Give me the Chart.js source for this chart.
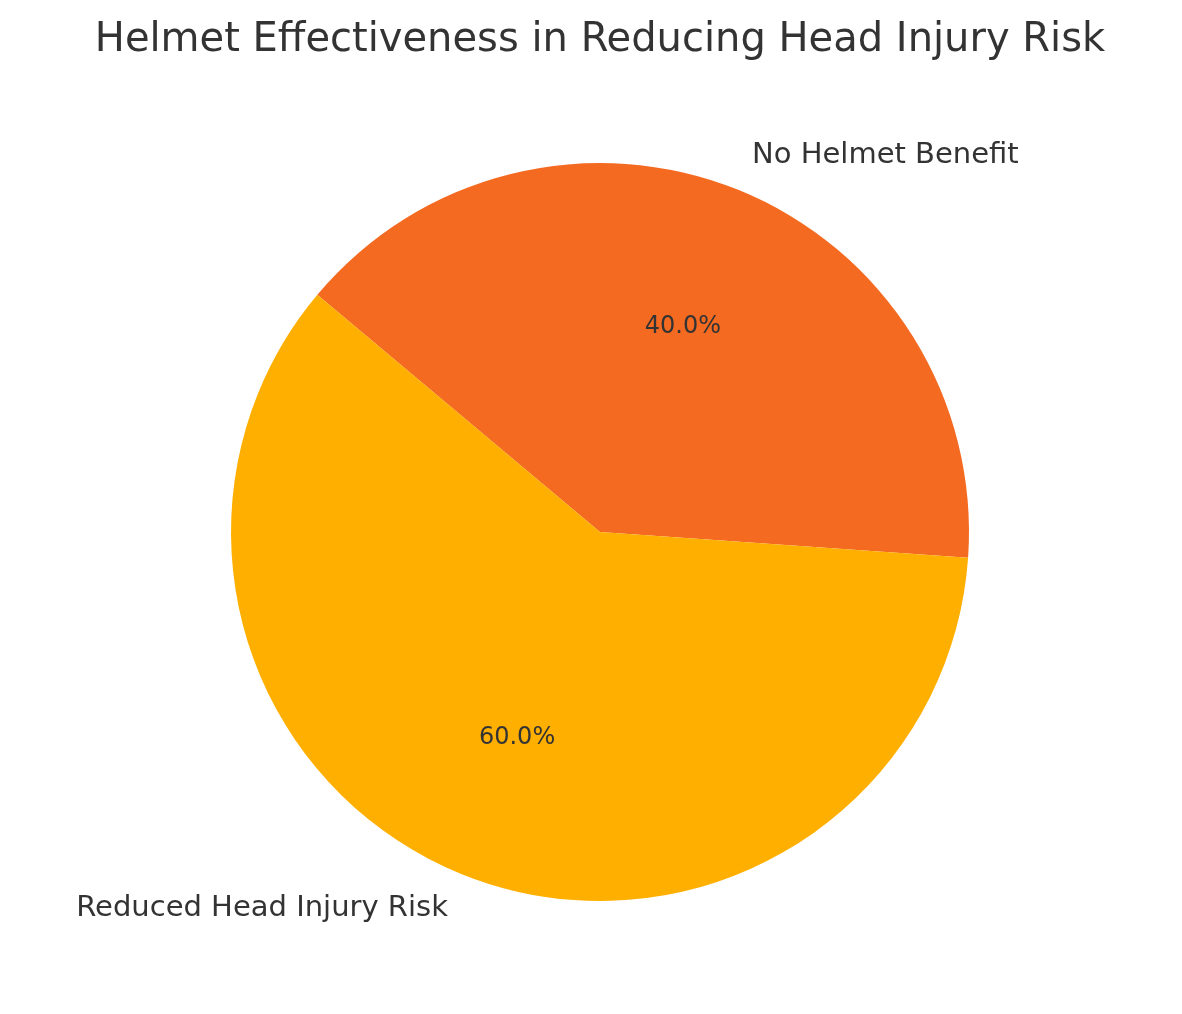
<!DOCTYPE html>
<html><head><meta charset="utf-8">
<script src="https://cdn.jsdelivr.net/npm/chart.js@4/dist/chart.umd.min.js"></script>
<style>html,body{margin:0;padding:0;background:#fff;}</style>
</head><body>
<canvas id="c" width="1182" height="1014"></canvas>
<script>
const categories = ["No Helmet Benefit", "Reduced Head Injury Risk"];
const values = [40, 60];
const colors = ["#F46A21", "#FFAF00"];
const titleText = "Helmet Effectiveness in Reducing Head Injury Risk";

const labelPlugin = {
  id: 'pieLabels',
  afterDraw(chart) {
    const ctx = chart.ctx;
    ctx.save();
    ctx.fillStyle = '#333333';
    ctx.font = '40px "DejaVu Sans"';
    ctx.textAlign = 'center';
    ctx.textBaseline = 'middle';
    ctx.fillText(titleText, 600, 41);
    const meta = chart.getDatasetMeta(0);
    const total = values.reduce((a, b) => a + b, 0);
    meta.data.forEach((arc, i) => {
      const mid = (arc.startAngle + arc.endAngle) / 2;
      const r = arc.outerRadius;
      const cx = arc.x, cy = arc.y;
      const lx = cx + 1.1 * r * Math.cos(mid), ly = cy + 1.1 * r * Math.sin(mid);
      ctx.font = '29px "DejaVu Sans"';
      ctx.textAlign = Math.cos(mid) >= 0 ? 'left' : 'right';
      ctx.fillText(categories[i], lx, ly);
      const px = cx + 0.6 * r * Math.cos(mid), py = cy + 0.6 * r * Math.sin(mid);
      ctx.font = '24px "DejaVu Sans"';
      ctx.textAlign = 'center';
      ctx.fillText((values[i] / total * 100).toFixed(1) + '%', px, py);
    });
    ctx.restore();
  }
};

new Chart(document.getElementById('c'), {
  type: 'pie',
  data: { labels: categories, datasets: [{ data: values, backgroundColor: colors, borderWidth: 0 }] },
  options: {
    responsive: false, animation: false, devicePixelRatio: 1,
    rotation: -50,
    layout: { padding: { top: 163, bottom: 113, left: 231, right: 213 } },
    plugins: { legend: { display: false }, tooltip: { enabled: false }, title: { display: false } }
  },
  plugins: [labelPlugin]
});
</script>
</body></html>
